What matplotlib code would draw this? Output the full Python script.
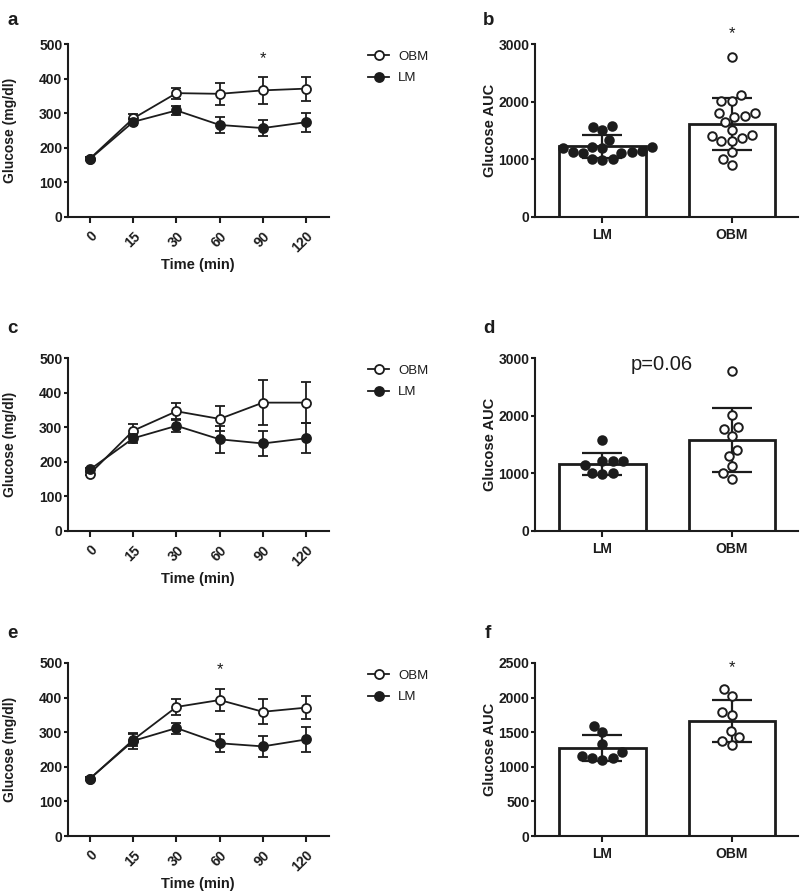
import numpy as np
import matplotlib
matplotlib.use('Agg')
import matplotlib.pyplot as plt
from matplotlib.lines import Line2D

plt.rcParams['font.family'] = ['Liberation Sans', 'DejaVu Sans']

# ---------------- data ----------------
time_labels = ['0', '15', '30', '60', '90', '120']
groups = ['LM', 'OBM']

# panel a (line)
a_obm_mean = [169, 285, 358, 356, 366, 371]
a_obm_sem = [4, 12, 16, 31, 38, 35]
a_lm_mean = [168, 275, 308, 266, 257, 274]
a_lm_sem = [4, 8, 12, 23, 23, 27]

# panel c (line)
c_obm_mean = [166, 290, 346, 324, 371, 371]
c_obm_sem = [5, 19, 23, 36, 65, 59]
c_lm_mean = [178, 268, 304, 265, 253, 268]
c_lm_sem = [5, 13, 18, 39, 37, 43]

# panel e (line)
e_obm_mean = [166, 278, 373, 393, 359, 371]
e_obm_sem = [4, 17, 24, 32, 36, 33]
e_lm_mean = [166, 275, 312, 268, 259, 279]
e_lm_sem = [4, 24, 16, 26, 31, 35]

# panel b (AUC)
b_lm_points = [1585, 1505, 1568, 1332, 1130, 1118, 1211, 1199, 1188, 1211,
               1107, 1130, 1153, 1014, 986, 1009]
b_obm_points = [2769, 2111, 2018, 2007, 1800, 1742, 1649, 1753, 1805, 1511,
                1407, 1326, 1326, 1378, 1424, 1125, 1009, 910]
b_mean = [1223, 1615]
b_sd = [193, 450]

# panel d (AUC)
d_lm_points = [1573, 1213, 1213, 1213, 1138, 1004, 981, 1004]
d_obm_points = [2774, 2020, 1764, 1799, 1648, 1410, 1306, 1132, 1004, 900]
d_mean = [1164, 1579]
d_sd = [191, 556]

# panel f (AUC)
f_lm_points = [1591, 1499, 1330, 1209, 1132, 1103, 1127, 1161]
f_obm_points = [2118, 2026, 1750, 1794, 1514, 1426, 1373, 1315]
f_mean = [1267, 1665]
f_sd = [189, 305]

# ---------------- layout ----------------
W, H = 800, 894
fig = plt.figure(figsize=(W / 100, H / 100), dpi=100)
INK = '#1c1c1c'


def add_ax(left, top, right, bottom):
    return fig.add_axes([left / W, 1 - bottom / H, (right - left) / W, (bottom - top) / H])


def style_axes(ax):
    for s in ['top', 'right']:
        ax.spines[s].set_visible(False)
    for s in ['left', 'bottom']:
        ax.spines[s].set_linewidth(1.5)
        ax.spines[s].set_color(INK)
    ax.tick_params(axis='both', width=1.5, length=3, color=INK,
                   labelsize=10, labelcolor=INK, pad=1)
    for lab in ax.get_yticklabels() + ax.get_xticklabels():
        lab.set_fontweight('bold')


def line_panel(ax, obm_m, obm_s, lm_m, lm_s, legend=True):
    x = np.arange(len(time_labels))
    common = dict(color=INK, lw=1.3, ms=6.5, mew=1.3, capsize=3.5,
                  capthick=1.3, elinewidth=1.3, clip_on=False)
    ax.errorbar(x, obm_m, yerr=obm_s, marker='o', mfc='white', mec=INK,
                zorder=3, **common)
    ax.errorbar(x, lm_m, yerr=lm_s, marker='o', mfc=INK, mec=INK,
                zorder=4, **common)
    ax.set_xlim(-0.51, 5.53)
    ax.set_ylim(0, 500)
    ax.set_yticks([0, 100, 200, 300, 400, 500])
    ax.set_xticks(x)
    ax.set_xticklabels(time_labels)
    style_axes(ax)
    ax.tick_params(axis='x', length=4, pad=4.5)
    for lab in ax.get_xticklabels():
        lab.set_rotation(45)
        lab.set_ha('right')
        lab.set_va('top')
        lab.set_rotation_mode('anchor')
        lab.set_fontweight('bold')
    ax.set_ylabel('Glucose (mg/dl)', fontsize=10, fontweight='bold', color=INK, va='center')
    ax.yaxis.set_label_coords(-0.222, 0.5)
    ax.set_xlabel('Time (min)', fontsize=10.5, fontweight='bold', color=INK, va='center')
    ax.xaxis.set_label_coords(0.498, -0.28)
    if legend:
        handles = [Line2D([], [], color=INK, lw=1.3, marker='o', ms=6.5, mfc='white', mec=INK, mew=1.3),
                   Line2D([], [], color=INK, lw=1.3, marker='o', ms=6.5, mfc=INK, mec=INK, mew=1.3)]
        pos = ax.get_position()
        top_px = (1 - pos.y1) * H
        ax.legend(handles, ['OBM', 'LM'], loc='upper left',
                  bbox_to_anchor=(368 / W, 1 - (top_px + 6.5) / H),
                  bbox_transform=fig.transFigure, frameon=False,
                  handlelength=1.6, handletextpad=0.7, labelspacing=0.7,
                  borderpad=0, borderaxespad=0, fontsize=9.5,
                  labelcolor=INK)


def swarm_offsets(values, sx, sy, d):
    values = np.asarray(values, dtype=float)
    order = np.argsort(values)
    placed = []
    xs = np.zeros(len(values))
    for i in order:
        y = values[i] * sy
        cands = [0.0]
        for (px, py) in placed:
            dy = y - py
            if abs(dy) < d:
                dx = np.sqrt(d * d - dy * dy)
                cands += [px + dx, px - dx]
        cands.sort(key=lambda c: (abs(c), c))
        for c in cands:
            if all((c - px) ** 2 + (y - py) ** 2 >= d * d - 1e-6 for px, py in placed):
                xs[i] = c
                break
        placed.append((xs[i], y))
    return xs / sx


def bar_panel(ax, lm_pts, obm_pts, means, sds, ymax, yticks):
    x = np.arange(len(groups))
    ax.bar(x, means, width=0.67, color='white', edgecolor=INK, linewidth=2.0, zorder=2)
    ax.errorbar(x, means, yerr=sds, fmt='none', ecolor=INK, elinewidth=1.6,
                capsize=14.5, capthick=1.6, zorder=3)
    ax.set_xlim(-0.52, 1.51)
    ax.set_ylim(0, ymax)
    ax.set_yticks(yticks)
    ax.set_xticks(x)
    ax.set_xticklabels(groups)
    pos = ax.get_position()
    sx = pos.width * W / (1.51 + 0.52)
    sy = pos.height * H / ymax
    for i, (pts, filled) in enumerate([(lm_pts, True), (obm_pts, False)]):
        off = swarm_offsets(pts, sx, sy, 10.5)
        ax.scatter(i + off, pts, s=38, marker='o',
                   facecolor=INK if filled else 'white', edgecolor=INK,
                   linewidth=1.4, zorder=4, clip_on=False)
    style_axes(ax)
    ax.tick_params(axis='x', length=4, pad=4, labelsize=10)
    ax.set_ylabel('Glucose AUC', fontsize=10.5, fontweight='bold', color=INK, va='center')
    ax.yaxis.set_label_coords(-0.171, 0.5)


ax_a = add_ax(68, 44, 329, 217)
ax_c = add_ax(68, 358, 329, 531)
ax_e = add_ax(68, 663, 329, 836)
ax_b = add_ax(535, 44, 798, 217)
ax_d = add_ax(535, 358, 798, 531)
ax_f = add_ax(535, 663, 798, 836)

line_panel(ax_a, a_obm_mean, a_obm_sem, a_lm_mean, a_lm_sem)
line_panel(ax_c, c_obm_mean, c_obm_sem, c_lm_mean, c_lm_sem)
line_panel(ax_e, e_obm_mean, e_obm_sem, e_lm_mean, e_lm_sem)

bar_panel(ax_b, b_lm_points, b_obm_points, b_mean, b_sd, 3000, [0, 1000, 2000, 3000])
bar_panel(ax_d, d_lm_points, d_obm_points, d_mean, d_sd, 3000, [0, 1000, 2000, 3000])
bar_panel(ax_f, f_lm_points, f_obm_points, f_mean, f_sd, 2500, [0, 500, 1000, 1500, 2000, 2500])

# significance marks
star_kw = dict(ha='center', va='baseline', fontsize=12, color=INK, clip_on=False)
ax_a.text(4, 445, '*', **star_kw)
ax_e.text(3, 469, '*', **star_kw)
ax_b.text(1, 3100, '*', **star_kw)
ax_f.text(1, 2375, '*', **star_kw)
ax_d.text(0.46, 2795, 'p=0.06', ha='center', va='baseline', fontsize=14.5, color=INK)

# panel letters
for letter, (px, py) in {'a': (7, 25), 'b': (483, 25), 'c': (7, 333),
                         'd': (483, 333), 'e': (7, 638), 'f': (485, 638)}.items():
    fig.text(px / W, 1 - py / H, letter, fontsize=13.5, fontweight='bold',
             ha='left', va='baseline', color=INK)

fig.savefig('out.png', dpi=100, facecolor='white')
